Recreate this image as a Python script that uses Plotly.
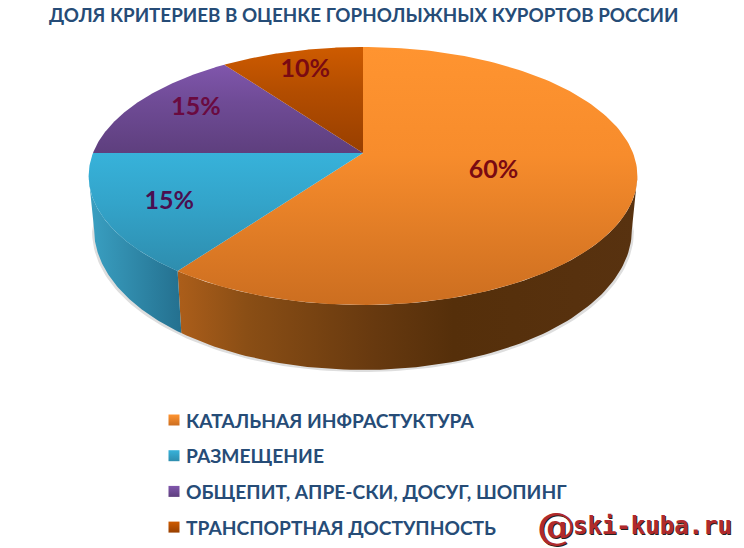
import numpy as np
import plotly.graph_objects as go

title = "ДОЛЯ КРИТЕРИЕВ В ОЦЕНКЕ ГОРНОЛЫЖНЫХ КУРОРТОВ РОССИИ"
categories = ["КАТАЛЬНАЯ ИНФРАСТУКТУРА", "РАЗМЕЩЕНИЕ",
              "ОБЩЕПИТ, АПРЕ-СКИ, ДОСУГ, ШОПИНГ", "ТРАНСПОРТНАЯ ДОСТУПНОСТЬ"]
values = [60, 15, 15, 10]

face_colors = [("#FF9430", "#CC6E20"), ("#37B2DA", "#2E8DAE"),
               ("#8056AC", "#5E3F7E"), ("#CE5B00", "#983F00")]
face_mid = ["#F78C2C", "#33A4CA", "#6F4B96", "#B34D00"]
wall_stops = [
    [(0, "#AC5E1A"), (.15, "#8A4E15"), (.43, "#67390F"), (.6, "#552F0A"), (1, "#583210")],
    [(0, "#3AA0C2"), (1, "#24708F")],
]
label_colors = ["#7A0A12", "#4A0F50", "#6A0A40", "#7A0A12"]
label_radius = [.48, .74, .75, .81]
label_shift = [-1, 4, -5, 0]
FONT = "Lato, 'Open Sans', sans-serif"
TEXT = "#264C77"

# perspective disc model (screen pixels)
CX, CY, RX, K, A = 363, 153, 270, 124.9, .178
BOT_X, BOT_CY, BOT_M = .98, 204.6, 1.088


def top_pt(th):
    u, v = np.sin(th), -np.cos(th)
    s = 1 / (1 - A * v)
    return CX + RX * u * s, CY + K * v * s


def bot_pt(th):
    u, v = np.sin(th), -np.cos(th)
    s = 1 / (1 - A * v)
    return CX + BOT_X * RX * u * s, BOT_CY + BOT_M * K * v * s


fig = go.Figure()
edges = np.radians(np.concatenate([[0], np.cumsum(values)]) * 3.6)
sil = np.arcsin(A)
hide = dict(hoverinfo="skip", showlegend=False, mode="lines", line=dict(width=0))

# soft shadow under the disc
ths = np.linspace(np.pi / 2 + sil, 1.5 * np.pi - sil, 120)
sx, sy = bot_pt(ths)
fig.add_trace(go.Scatter(x=np.r_[sx + np.sign(sx - CX) * 2, sx[::-1]], y=np.r_[sy + 2, sy[::-1] - 10],
                         fill="toself", fillcolor="#DEDEDE", **hide))

# walls
spans = [(np.pi / 2 + sil, edges[1]), (edges[1], 1.5 * np.pi - sil)]
for (a0, a1), stops in zip(spans, wall_stops):
    th = np.linspace(a0, a1, 90)
    tx, ty = top_pt(th)
    bx, by = bot_pt(th)
    xs = np.r_[tx, bx[::-1]]
    ys = np.r_[ty, by[::-1]]
    fig.add_trace(go.Scatter(
        x=xs, y=ys, fill="toself",
        fillgradient=dict(type="horizontal", start=float(xs.min()), stop=float(xs.max()),
                          colorscale=[[p, c] for p, c in stops]), **hide))

# top faces
for i, (c0, c1) in enumerate(face_colors):
    th = np.linspace(edges[i], edges[i + 1], 160)
    ax, ay = top_pt(th)
    xs = np.r_[CX, ax, CX]
    ys = np.r_[CY, ay, CY]
    fig.add_trace(go.Scatter(
        x=xs, y=ys, fill="toself",
        fillgradient=dict(type="vertical", start=float(ys.min()), stop=float(ys.max()),
                          colorscale=[[0, c0], [.42, face_mid[i]], [1, c1]]), **hide))

# value labels
mids = (edges[:-1] + edges[1:]) / 2
lx, ly = [], []
for th, r, d in zip(mids, label_radius, label_shift):
    px, py = top_pt(th)
    lx.append(CX + (px - CX) * r)
    ly.append(CY + (py - CY) * r + d)
fig.add_trace(go.Scatter(x=lx, y=ly, mode="text", text=[f"{v}%" for v in values],
                         textfont=dict(family=FONT, size=25, color=label_colors, weight="bold"),
                         textposition="middle center", hoverinfo="skip", showlegend=False))

# legend
LEG_X, LEG_Y, LEG_STEP = 174, 420, 35.7
for i, (cat, (c0, c1)) in enumerate(zip(categories, face_colors)):
    yy = LEG_Y + i * LEG_STEP
    fig.add_trace(go.Scatter(x=[LEG_X], y=[yy], mode="markers", hoverinfo="skip", showlegend=False,
                             marker=dict(symbol="square", size=11, color=c0,
                                         gradient=dict(type="vertical", color=c1), line=dict(width=0))))
    fig.add_annotation(x=LEG_X + 10, y=yy, text=f"<b>{cat}</b>", showarrow=False, xanchor="left",
                       yanchor="middle", xref="x", yref="y",
                       font=dict(family=FONT, size=19.2, color=TEXT))

fig.add_annotation(x=364, y=14, text=f"<b>{title}</b>", showarrow=False, xanchor="center",
                   yanchor="middle", font=dict(family=FONT, size=18.8, color=TEXT))
fig.add_annotation(x=535, y=525, text="@", showarrow=False, xanchor="left", yanchor="middle",
                   font=dict(family="DejaVu Serif", size=38, color="#B02A2C", weight="bold",
                             shadow="1px 1px 0 #222222"))
fig.add_annotation(x=571, y=526, text="ski-kuba.ru", showarrow=False, xanchor="left", yanchor="middle",
                   font=dict(family="DejaVu Sans Mono", size=24, color="#B02A2C", weight="bold",
                             shadow="1px 1px 0 #222222"))

fig.update_layout(width=744, height=548, margin=dict(l=0, r=0, t=0, b=0),
                  paper_bgcolor="white", plot_bgcolor="white", showlegend=False,
                  xaxis=dict(range=[0, 744], visible=False, fixedrange=True),
                  yaxis=dict(range=[548, 0], visible=False, fixedrange=True))
fig.write_html("out.html", config={"displayModeBar": False},
               post_script="document.body.style.margin='0';")
